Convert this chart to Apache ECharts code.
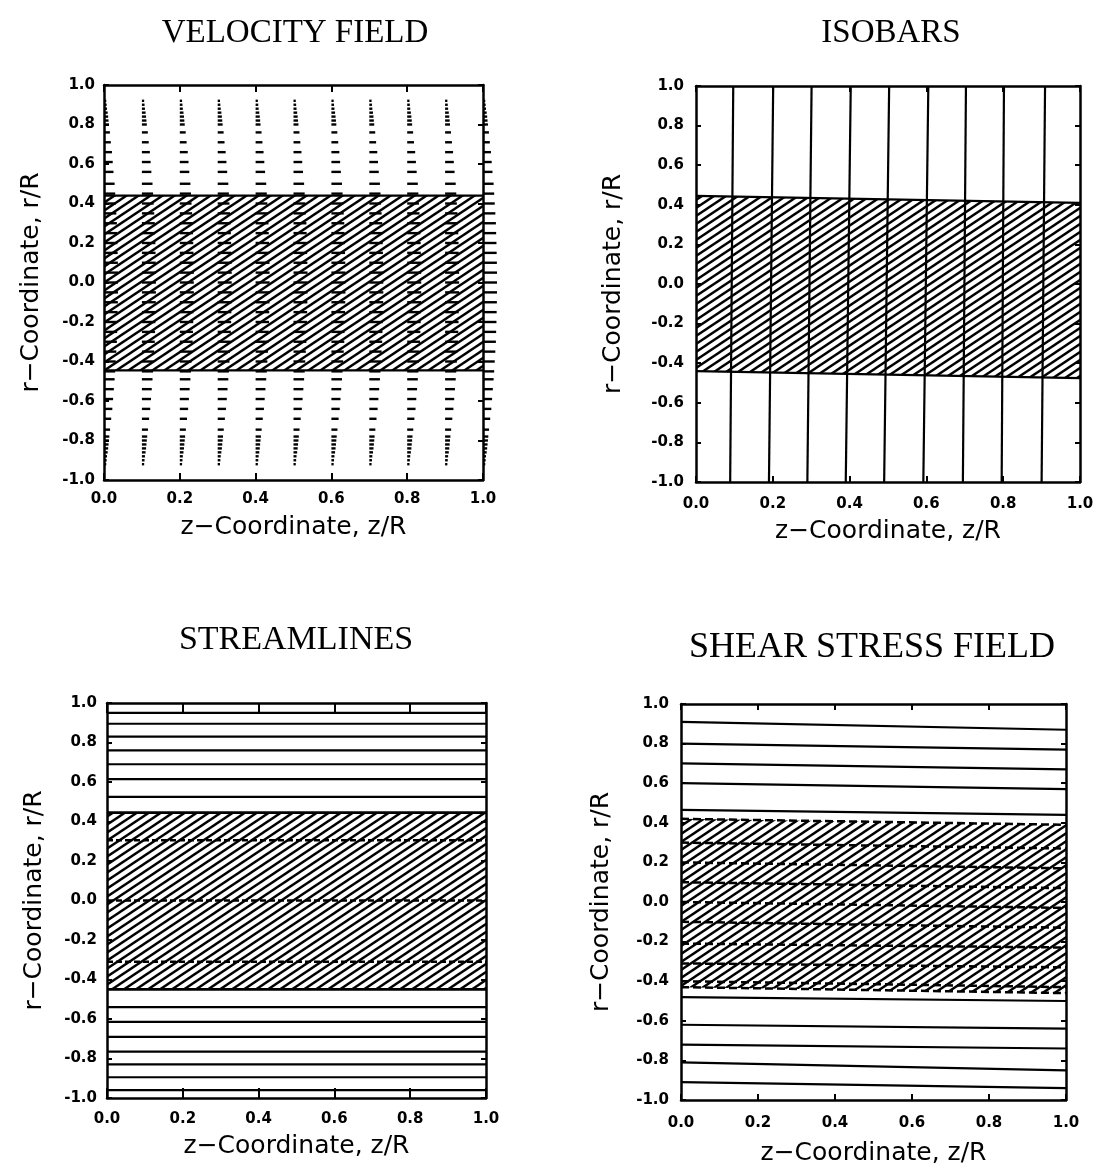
<!DOCTYPE html>
<html><head><meta charset="utf-8">
<script src="https://cdn.jsdelivr.net/npm/echarts@6/dist/echarts.min.js"></script>
<style>html,body{margin:0;padding:0;background:#fff}#c{width:1099px;height:1174px}</style>
</head><body><div id="c"></div>
<script>
// ---------------- data ----------------
const panelTitles = ['VELOCITY FIELD', 'ISOBARS', 'STREAMLINES', 'SHEAR STRESS FIELD'];
const xAxisName = 'z\u2212Coordinate, z/R';
const yAxisName = 'r\u2212Coordinate, r/R';

// velocity field: columns of vectors at z, rows at r, arrow length (in z/R units)
const velZ = [0.0, 0.1, 0.2, 0.3, 0.4, 0.5, 0.6, 0.7, 0.8, 0.9, 1.0];
const velR = [0.92, 0.90, 0.88, 0.86, 0.84, 0.82, 0.80, 0.76, 0.71, 0.66, 0.61, 0.56, 0.50, 0.45, 0.40, 0.35, 0.30, 0.25, 0.20, 0.15, 0.10, 0.05, 0.0,
              -0.05, -0.10, -0.15, -0.20, -0.25, -0.30, -0.35, -0.40, -0.45, -0.49, -0.54, -0.59, -0.64, -0.69, -0.745, -0.78, -0.80, -0.82, -0.84, -0.86, -0.88, -0.90, -0.92];
const velLen = [0.006, 0.007, 0.008, 0.0097, 0.011, 0.012, 0.013, 0.0156, 0.018, 0.021, 0.023, 0.025, 0.028, 0.0295, 0.031, 0.0325, 0.034, 0.0347, 0.0355, 0.036, 0.0366, 0.037, 0.037,
                0.037, 0.0366, 0.036, 0.0355, 0.0347, 0.034, 0.0325, 0.031, 0.0295, 0.028, 0.026, 0.024, 0.022, 0.019, 0.016, 0.014, 0.013, 0.012, 0.011, 0.0097, 0.008, 0.007, 0.006];
const velBandTop = [0.44, 0.44];
const velBandBottom = [-0.445, -0.445];

// isobars: vertical lines (z at r=+1, z at r=-1)
const isoZTop = [0.097, 0.201, 0.301, 0.403, 0.503, 0.605, 0.703, 0.802, 0.909];
const isoZBottom = [0.089, 0.19, 0.29, 0.39, 0.49, 0.592, 0.695, 0.796, 0.90];
const isoBandTop = [0.445, 0.41];
const isoBandBottom = [-0.44, -0.475];

// streamlines: horizontal lines at r
const streamSolid = [0.95, 0.895, 0.83, 0.76, 0.69, 0.615, 0.525, -0.54, -0.615, -0.69, -0.765, -0.83, -0.895, -0.96];
const streamDashed = [0.305, 0.0, -0.31];
const streamBandTop = [0.445, 0.445];
const streamBandBottom = [-0.45, -0.45];

// shear stress: lines (r at z=0, r at z=1)
const shearSolidLeft  = [0.91, 0.80, 0.70, 0.60, 0.465, -0.48, -0.62, -0.72, -0.81, -0.91];
const shearSolidRight = [0.87, 0.77, 0.67, 0.57, 0.44, -0.50, -0.64, -0.74, -0.85, -0.94];
const shearDashLeft   = [0.42, 0.30, 0.20, 0.10, 0.0, -0.10, -0.21, -0.31, -0.40, -0.43];
const shearDashRight  = [0.39, 0.27, 0.17, 0.07, -0.03, -0.13, -0.23, -0.33, -0.43, -0.46];
const shearBandTop = [0.42, 0.39];
const shearBandBottom = [-0.43, -0.46];

// ---------------- hatch pattern ----------------
function makeHatch() {
  const W = 12, H = 8;
  const c = document.createElement('canvas');
  c.width = W; c.height = H;
  const g = c.getContext('2d');
  g.strokeStyle = '#000'; g.lineWidth = 2.4;
  for (let k = -2; k <= 3; k++) {
    const cc = k * H;
    g.beginPath(); g.moveTo(-W, cc + H); g.lineTo(2 * W, cc - 2 * H); g.stroke();
  }
  return c;
}
const hatch = makeHatch();

// ---------------- layout ----------------
const grids = [
  {left: 104, top: 85, width: 379, height: 395},
  {left: 696, top: 86, width: 384, height: 396},
  {left: 107, top: 703, width: 379, height: 395},
  {left: 681, top: 704, width: 385, height: 396}
];
const tickLen = [7, 6, 10, 6];
const xLabelMargin = [12, 15, 14, 16];
const xNameGap = [35, 37, 36, 41];
const yNameGap = [60, 70, 60, 67];
const yLabelMargin = [9, 12, 10, 12];

const fmt = v => (Math.abs(v) < 1e-9 ? 0 : v).toFixed(1);
const lab = {color: '#000', fontFamily: 'DejaVu Sans', fontWeight: 'bold', fontSize: 15};
const nameStyle = {color: '#000', fontFamily: 'DejaVu Sans', fontSize: 25};
const axLine = {show: true, onZero: false, lineStyle: {color: '#000', width: 2.5}};

const xAxes = [], yAxes = [];
for (let i = 0; i < 4; i++) {
  xAxes.push({gridIndex: i, type: 'value', min: 0, max: 1, interval: 0.2, position: 'bottom',
    axisLine: axLine, axisTick: {inside: true, length: tickLen[i], lineStyle: {color: '#000', width: 2}},
    axisLabel: Object.assign({formatter: fmt, margin: xLabelMargin[i]}, lab), splitLine: {show: false},
    name: xAxisName, nameLocation: 'middle', nameGap: xNameGap[i], nameTextStyle: nameStyle});
  yAxes.push({gridIndex: i, type: 'value', min: -1, max: 1, interval: 0.2, position: 'left',
    axisLine: axLine, axisTick: {inside: true, length: 5, lineStyle: {color: '#000', width: 2}},
    axisLabel: Object.assign({formatter: fmt, margin: yLabelMargin[i]}, lab), splitLine: {show: false},
    name: yAxisName, nameLocation: 'middle', nameGap: yNameGap[i], nameTextStyle: nameStyle});
}
for (let i = 0; i < 4; i++) {
  xAxes.push({gridIndex: i, type: 'value', min: 0, max: 1, interval: 0.2, position: 'top',
    axisLine: axLine, axisTick: {inside: true, length: tickLen[i], lineStyle: {color: '#000', width: 2}},
    axisLabel: {show: false}, splitLine: {show: false}});
  yAxes.push({gridIndex: i, type: 'value', min: -1, max: 1, interval: 0.2, position: 'right',
    axisLine: axLine, axisTick: {inside: true, length: 5, lineStyle: {color: '#000', width: 2}},
    axisLabel: {show: false}, splitLine: {show: false}});
}

// ---------------- series helpers ----------------
function seg(gi, pts, width, type) {
  return {type: 'line', xAxisIndex: gi, yAxisIndex: gi, data: pts, symbol: 'none', showSymbol: false,
    silent: true, animation: false, z: 4, clip: false,
    lineStyle: {color: '#000', width: width, type: type || 'solid', dashOffset: 0}};
}
function band(gi, top, bot) {
  return {type: 'custom', xAxisIndex: gi, yAxisIndex: gi, data: [[0, 0]], silent: true, animation: false, z: 3,
    renderItem: function (params, api) {
      const pts = [api.coord([0, top[0]]), api.coord([1, top[1]]), api.coord([1, bot[1]]), api.coord([0, bot[0]])];
      return {type: 'polygon', shape: {points: pts}, style: {fill: {image: hatch, repeat: 'repeat'}, stroke: null}};
    }};
}

const series = [];
// panel 1: velocity vectors
const velData = [];
velZ.forEach(z => velR.forEach((r, k) => velData.push([z, r, velLen[k]])));
series.push({type: 'custom', xAxisIndex: 0, yAxisIndex: 0, data: velData, silent: true, animation: false, z: 2, clip: false,
  encode: {x: 0, y: 1},
  renderItem: function (params, api) {
    const z = api.value(0), r = api.value(1), L = api.value(2);
    const p0 = api.coord([z, r]), p1 = api.coord([z + L, r]);
    return {type: 'line', shape: {x1: p0[0], y1: p0[1], x2: Math.max(p1[0], p0[0] + 1.5), y2: p1[1]},
      style: {stroke: '#000', lineWidth: 2.4}};
  }});
series.push(band(0, velBandTop, velBandBottom));
series.push(seg(0, [[0, velBandTop[0]], [1, velBandTop[1]]], 2.2));
series.push(seg(0, [[0, velBandBottom[0]], [1, velBandBottom[1]]], 2.2));

// panel 2: isobars
series.push(band(1, isoBandTop, isoBandBottom));
isoZTop.forEach((z, k) => series.push(seg(1, [[z, 1], [isoZBottom[k], -1]], 2.2)));
series.push(seg(1, [[0, isoBandTop[0]], [1, isoBandTop[1]]], 2.2));
series.push(seg(1, [[0, isoBandBottom[0]], [1, isoBandBottom[1]]], 2.2));

// panel 3: streamlines
series.push(band(2, streamBandTop, streamBandBottom));
streamSolid.forEach(r => series.push(seg(2, [[0, r], [1, r]], 2.2)));
streamDashed.forEach(r => series.push(seg(2, [[0, r], [1, r]], 2.4, [6, 3])));
series.push(seg(2, [[0, streamBandTop[0]], [1, streamBandTop[1]]], 2.6));
series.push(seg(2, [[0, streamBandBottom[0]], [1, streamBandBottom[1]]], 2.6));

// panel 4: shear stress
series.push(band(3, shearBandTop, shearBandBottom));
shearSolidLeft.forEach((r, k) => series.push(seg(3, [[0, r], [1, shearSolidRight[k]]], 2.2)));
shearDashLeft.forEach((r, k) => series.push(seg(3, [[0, r], [1, shearDashRight[k]]], 2.5, [8, 4])));

const titlePos = [[295, 33], [891, 33], [296, 640], [872, 648]];
const titleSize = [33, 33, 34, 36];
const graphic = panelTitles.map((t, i) => ({type: 'text', x: titlePos[i][0], y: titlePos[i][1], silent: true,
  style: {text: t, fill: '#000', font: titleSize[i] + 'px "Liberation Serif", serif',
    textAlign: 'center', textVerticalAlign: 'middle', align: 'center', verticalAlign: 'middle'}}));

const chart = echarts.init(document.getElementById('c'), null, {renderer: 'canvas'});
chart.setOption({
  backgroundColor: '#fff',
  animation: false,
  grid: grids,
  xAxis: xAxes,
  yAxis: yAxes,
  series: series,
  graphic: graphic
});
</script>
</body></html>
